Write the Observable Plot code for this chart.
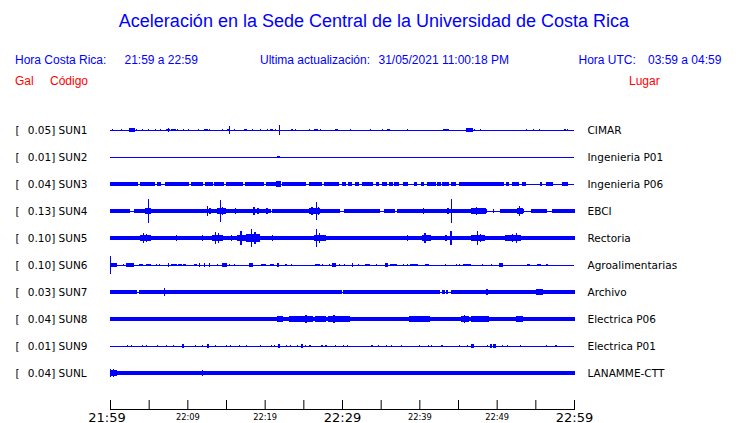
<!DOCTYPE html>
<html><head><meta charset="utf-8">
<script src="https://cdn.jsdelivr.net/npm/d3@7"></script>
<script src="https://cdn.jsdelivr.net/npm/@observablehq/plot@0.6"></script>
<style>
body{margin:0;background:#fff;}
#wrap{position:relative;width:740px;height:423px;overflow:hidden;font-family:"Liberation Sans",Arial,sans-serif;}
.t{position:absolute;white-space:pre;line-height:1;font-size:12px;}
.b{color:#0000ff;top:54px;}
.r{color:#ff0000;top:75px;}
#chart{position:absolute;left:0;top:0;}
</style></head><body>
<div id="wrap">
<div id="chart"></div>
<div class="t" style="left:0;width:748px;text-align:center;top:12px;font-size:18px;color:#0000ff">Aceleración en la Sede Central de la Universidad de Costa Rica</div>
<div class="t b" style="left:15px">Hora Costa Rica:</div>
<div class="t b" style="left:124.5px">21:59 a 22:59</div>
<div class="t b" style="left:260px">Ultima actualización:</div>
<div class="t b" style="left:378.5px">31/05/2021 11:00:18 PM</div>
<div class="t b" style="left:578.5px">Hora UTC:</div>
<div class="t b" style="left:648px">03:59 a 04:59</div>
<div class="t r" style="left:15px">Gal</div>
<div class="t r" style="left:50px">Código</div>
<div class="t r" style="left:629px">Lugar</div>
</div>
<script>
// ---- data ----
const stations = ["SUN1","SUN2","SUN3","SUN4","SUN5","SUN6","SUN7","SUN8","SUN9","SUNL"];
const galMax = [0.05,0.01,0.04,0.13,0.10,0.10,0.03,0.04,0.01,0.04];
const places = ["CIMAR","Ingenieria P01","Ingenieria P06","EBCI","Rectoria","Agroalimentarias","Archivo","Electrica P06","Electrica P01","LANAMME-CTT"];
const tickMinutes = [0,5,10,15,20,25,30,35,40,45,50,55,60];
const labelMinutes = [0,10,20,30,40,50,60];
const labelTexts = ["21:59","22:09","22:19","22:29","22:39","22:49","22:59"];
const majorMinutes = [0,30,60];

// envelope segments read from the record: [start minute, end minute, half amplitude (1/100 of trace spacing)]
const sun1 = [[0.26,0.26,1.5],[1.5,1.5,2.5],[2.5,3.15,4.5],[2.85,2.9,7],[3.4,3.4,3.5],[4.14,4.14,1.5],[4.96,4.96,1.5],[5.86,5.86,1.5],[6.5,6.5,2.5],[7.37,7.67,2.5],[7.5,7.5,6],[7.89,8.45,3.5],[8.7,8.7,2.5],[9.48,9.48,2.5],[10.17,10.17,2.5],[11.47,11.47,2.5],[12.28,12.28,2.5],[12.54,12.54,2.5],[12.84,12.84,2.5],[14.53,14.53,2.5],[15.13,15.43,3.5],[15.43,15.43,13],[16.08,16.08,1.5],[17.33,17.67,3.5],[18.45,18.45,2.5],[19.44,19.44,2.5],[20.4,20.4,2.5],[20.7,21.03,3.5],[21.38,21.38,2.5],[21.9,21.9,17],[23.53,23.53,2.5],[23.97,23.97,2.5],[25.78,25.78,2.5],[26.47,26.77,3.5],[27.2,27.2,2.5],[29.2,29.4,2.5],[31.08,31.08,1.5],[33.66,33.66,2.5],[35.2,35.2,1.5],[35.9,36.16,3.5],[38.45,38.45,3.5],[43.1,43.8,3.5],[46.16,46.9,4.5],[46.5,46.6,6],[47.1,47.1,2.5],[47.9,47.9,3.5],[53.8,53.8,1.5],[54.7,54.7,1.5],[55.5,55.5,1.5],[58.75,58.9,3.5],[59.1,59.2,3.5]];
const sun2 = [[21.7,21.95,2.5]];
const sun3 = [[0,3.58,4],[3.92,5.78,4],[6.08,6.51,4],[7.24,10.17,4],[10.6,11.9,4],[12.37,13.19,4],[13.53,14.7,4],[15.04,17.07,4],[17.5,19.83,4],[20.26,21.47,4],[21.55,22.11,8],[21.8,21.85,10],[22.33,25.26,4],[25.82,27.41,4],[27.76,29.57,4],[30.04,30.43,4],[30.78,31.29,4],[31.77,32.16,4],[32.63,33.88,4],[34.44,34.74,4],[35.22,35.73,4],[36.16,36.47,4],[36.85,37.33,4],[37.89,38.41,4],[39.4,39.6,4],[40.3,40.56,4],[41.03,42.07,4],[42.41,42.72,4],[43.06,43.79,4],[44.14,44.66,4],[45.22,50.91,4],[51.25,51.55,4],[52.03,52.84,4],[53.32,53.71,4],[55.65,55.86,4],[56.38,57.24,4],[58.53,59.18,4]];
const sun4 = [[0,2.5,4],[3.2,20.5,4],[21,29.7,4],[30.3,34.7,4],[35.5,36.8,4],[37.8,48.7,4],[50.5,53.5,4],[54.5,56.5,4],[57.5,60,4],[0.4,0.4,6],[1.1,1.1,6],[3.2,3.3,6],[3.9,3.9,6],[4.57,5.3,8],[4.8,4.85,11],[4.96,4.96,41],[6.6,6.6,5],[7.9,7.9,5],[8.75,8.75,5],[9.2,9.2,5],[10.26,10.26,5],[12.2,13.06,7],[12.6,12.65,15],[12.9,12.95,11],[13.9,14.9,8],[14.27,14.27,40],[14.5,14.55,13],[15.86,16.7,7],[16.2,16.25,10],[18.0,19.7,7],[18.6,18.65,13],[19.1,19.15,10],[19.95,20.7,6],[20.3,20.35,9],[21.68,21.68,5],[22.33,22.33,5],[25.8,27.07,9],[26.1,26.15,12],[26.64,26.64,30],[26.9,26.95,13],[27.5,27.93,6],[29.2,29.2,4],[32.0,32.0,5],[34.2,34.2,5],[34.8,34.8,5],[37.2,38.5,5],[40,41.3,7],[40.5,40.55,9],[43.36,44.74,7],[43.7,43.75,10],[44.14,44.14,42],[45.5,46.5,6],[46.7,48.6,8],[47.35,47.4,14],[47.9,47.95,11],[49.6,49.6,4],[51,51,4],[51.85,52.5,5],[52.7,53.36,8],[52.9,52.95,17],[55.1,56.4,5],[57.2,57.7,4],[58.5,59,4]];
const sun5 = [[0,60,4.5],[0.3,0.3,5],[1.0,1.0,5],[1.6,1.6,5],[2.1,2.1,5],[4.0,5.3,9],[4.3,4.35,17],[4.7,4.75,12],[5.95,6.4,6],[7.7,9.8,6],[8.6,8.65,8],[10.26,12.85,6],[11.9,11.95,10],[13.2,14.6,11],[13.6,13.65,22],[14.0,14.05,15],[15.2,16.3,7],[15.7,15.75,10],[16.5,17.6,10],[16.9,16.95,24],[17.6,19.3,12],[18.3,18.35,30],[18.7,18.75,20],[20.2,22.3,6],[21.0,21.05,8],[23.6,26.0,5.5],[26.4,27.9,9],[26.7,26.75,30],[27.1,27.15,18],[28.15,29.0,7],[31.2,31.3,7],[32.2,32.3,6],[34.6,35.0,7],[36.55,36.55,6],[37.4,37.4,6],[38.5,38.5,8],[40.4,41.5,9],[40.7,40.75,16],[42.6,44.7,7],[43.4,43.45,11],[44.05,44.1,23],[45.2,46.0,7],[46.8,48.4,10],[47.5,47.55,23],[47.9,47.95,14],[48.6,49.5,6],[51.2,53.1,8],[52.5,52.55,18],[52.0,52.05,12],[56.2,56.8,7],[59.4,60,6]];
const sun6 = [[0,0.1,30],[0.2,0.8,4.5],[1.72,1.72,1.5],[2.1,3.0,4.5],[3.8,4.15,3.5],[4.75,5.3,3.5],[6.0,6.0,2.5],[6.4,6.4,2.5],[7.6,7.6,5],[8.0,8.6,3.5],[8.8,9.3,3.5],[9.45,9.8,3.5],[10.9,11.2,3.5],[11.55,11.55,5],[12.25,12.25,5],[12.9,12.9,5],[13.9,13.9,2.5],[14.6,15.0,5.5],[15.5,15.5,2.5],[16.08,16.08,1.5],[18.0,18.4,4.5],[19.6,20.1,3.5],[20.8,21.2,3.5],[21.65,21.75,6],[22.75,22.75,2.5],[23.5,23.5,2.5],[26.6,27.1,3.5],[27.5,27.5,2.5],[28.35,28.35,2.5],[28.8,29.2,5.5],[29.65,29.65,3.5],[30.3,30.3,3.5],[31.4,31.4,6],[32.1,32.1,1.5],[33.1,33.5,3.5],[34.4,34.4,2.5],[35.6,35.9,4.5],[36.3,37.1,3.5],[38.0,38.0,3.5],[38.5,38.5,3.5],[38.9,39.8,3.5],[40.8,41.2,3.5],[43.4,43.4,1.5],[44.75,44.75,1.5],[45.2,45.2,1.5],[45.7,46.6,3.5],[48.2,48.2,2.5],[49.3,49.3,2.5],[50.4,50.7,4.5],[54.0,54.3,3.5],[55.3,55.7,3.5],[56.4,56.6,3.5]];
const sun7 = [[0,3.4,4.5],[3.8,29.9,4.5],[30.2,42.6,4.5],[43.0,43.2,4.5],[43.5,43.7,4.5],[44.1,45.8,4.5],[46.0,46.6,4.5],[46.8,56.3,4.5],[56.5,60,4.5],[7.0,7.0,12],[9.6,9.9,6.5],[13.35,13.35,6.5],[18.4,18.9,6],[21.2,21.9,6],[23.2,23.2,6],[26.3,26.3,6],[33.3,33.3,6],[36.0,36.0,6],[37.8,38.2,6],[38.9,39.5,7],[39.8,40.2,6],[47.8,49.9,6.5],[48.7,48.75,8],[55.1,55.9,8]];
const sun8 = [[0,60,5],[4.0,4.0,6],[10.6,10.6,7],[11.45,11.45,7],[12.5,12.5,7],[13.7,13.7,7],[14.8,14.8,7],[15.4,15.4,7],[16.1,16.1,7],[16.95,16.95,7],[18.45,18.45,7],[19.3,19.3,7],[21.7,22.3,8],[23.2,26.2,8],[25.3,25.35,12],[26.6,27.9,7.5],[28.3,31.0,8],[28.95,29.0,14],[32.9,32.9,7],[35.7,36.8,7],[37.2,38.3,6],[38.7,40.4,8.5],[40.6,41.3,7.5],[41.7,43.9,7],[45.4,46.3,10],[45.8,45.85,14],[46.7,49.0,7.5],[52.5,53.4,8],[55.5,57.2,6]];
const sun9 = [[2.28,2.28,2.5],[2.72,2.72,3.5],[4.22,4.22,2.5],[4.74,4.74,3.5],[6.08,6.08,2.5],[7.33,7.33,2.5],[8.19,8.19,2.5],[9.4,9.55,4.5],[11.03,11.03,2.5],[11.98,11.98,3.5],[12.55,12.7,4.5],[13.62,13.62,2.5],[15.09,15.09,3.5],[15.56,15.56,3.5],[16.72,16.72,2.5],[17.59,17.59,2.5],[19.4,19.4,3.5],[20.82,20.82,2.5],[21.25,21.25,2.5],[21.75,21.9,4.5],[22.76,22.76,2.5],[23.32,23.32,2.5],[24.27,24.27,2.5],[24.75,24.9,4.5],[25.26,25.26,3.5],[25.86,25.86,3.5],[27.41,27.41,3.5],[27.93,27.93,3.5],[29.14,29.14,2.5],[30.17,30.17,3.5],[30.65,30.65,3.5],[33.75,33.95,3.5],[34.74,34.74,2.5],[35.78,35.78,2.5],[36.42,36.42,2.5],[37.63,37.63,2.5],[40.0,40.0,2.5],[41.21,41.21,3.5],[41.51,41.51,2.5],[42.93,42.93,2.5],[45.17,45.17,2.5],[46.25,46.25,2.5],[46.8,47.0,4.5],[48.84,48.84,3.5],[49.2,49.35,4.5],[49.65,49.8,4.5],[50.69,50.69,2.5],[51.42,51.42,2.5],[53.02,53.02,2.5],[56.38,56.38,2.5],[57.67,57.67,2.5]];
const sunL = [[0,60,4],[0,0.05,13],[0.1,0.9,8],[0.43,0.43,13],[1.64,2.93,7],[3.8,5.5,7],[6.16,7.67,7],[8.1,9.83,7],[10.5,12.4,7],[12.0,12.0,11],[12.8,14.35,7],[15.4,16.7,7],[18.0,19.3,7],[20.4,21.9,7],[22.5,23.8,7],[24.9,26.0,7],[27.3,28.8,7],[29.9,30.95,7],[31.8,33.5,7],[33.75,35.7,7],[35.9,37.8,7],[38.5,40.4,7],[41.1,42.6,7],[43.2,45.0,7],[45.4,47.3,7],[47.8,49.7,7],[50.1,51.85,7],[53.1,54.2,7],[55.1,56.8,7],[57.9,59.8,7]];
const traces = [sun1,sun2,sun3,sun4,sun5,sun6,sun7,sun8,sun9,sunL];

// ---- build ----
const blue = "#0000ff";
const rows = stations.map((s,i)=>({i, code:s, gal:galMax[i], place:places[i]}));
const events = [];
traces.forEach((arr,i)=>arr.forEach(([a,b,amp])=>events.push({i, a, b:Math.max(b, a+0.01), amp})));
const unit = 0.01;
const labels = labelMinutes.map((m,k)=>({m, text:labelTexts[k], major:majorMinutes.includes(m)}));

const chart = Plot.plot({
  width:740, height:423,
  marginLeft:110, marginRight:166, marginTop:100, marginBottom:14,
  x:{domain:[0,60], axis:null},
  y:{domain:[-30/27, 279/27], reverse:true, axis:null},
  style:{fontFamily:"DejaVu Sans", fontSize:"10.5px", background:"transparent", color:"black"},
  marks:[
    Plot.ruleY(rows,{y:"i", x1:0, x2:60, stroke:blue, strokeWidth:1}),
    Plot.rect(events,{x1:"a", x2:"b", y1:d=>d.i-d.amp*unit, y2:d=>d.i+d.amp*unit, fill:blue, stroke:blue, strokeWidth:1, shapeRendering:"crispEdges"}),
    Plot.text(rows,{x:0, y:"i", text:()=>"[", dx:-95, textAnchor:"start", fill:"black"}),
    Plot.text(rows,{x:0, y:"i", text:d=>d.gal.toFixed(2)+"] "+d.code, dx:-82.7, textAnchor:"start", fill:"black"}),
    Plot.text(rows,{x:60, y:"i", text:"place", dx:13, textAnchor:"start", fill:"black"}),
    Plot.frame({anchor:"bottom", stroke:"black"}),
    Plot.ruleX(tickMinutes,{x:d=>d, insetTop:300, stroke:"black"}),
    Plot.text(labels.filter(d=>d.major && d.m===0),{x:"m", text:"text", frameAnchor:"bottom", lineAnchor:"bottom", dy:12, dx:-3.5, fontSize:13, fill:"black"}),
    Plot.text(labels.filter(d=>d.major && d.m!==0),{x:"m", text:"text", frameAnchor:"bottom", lineAnchor:"bottom", dy:12, fontSize:13, fill:"black"}),
    Plot.text(labels.filter(d=>!d.major),{x:"m", text:"text", frameAnchor:"bottom", lineAnchor:"bottom", dy:10, fontSize:8.3, fill:"black"})
  ]
});
document.getElementById("chart").appendChild(chart);
</script>
</body></html>
